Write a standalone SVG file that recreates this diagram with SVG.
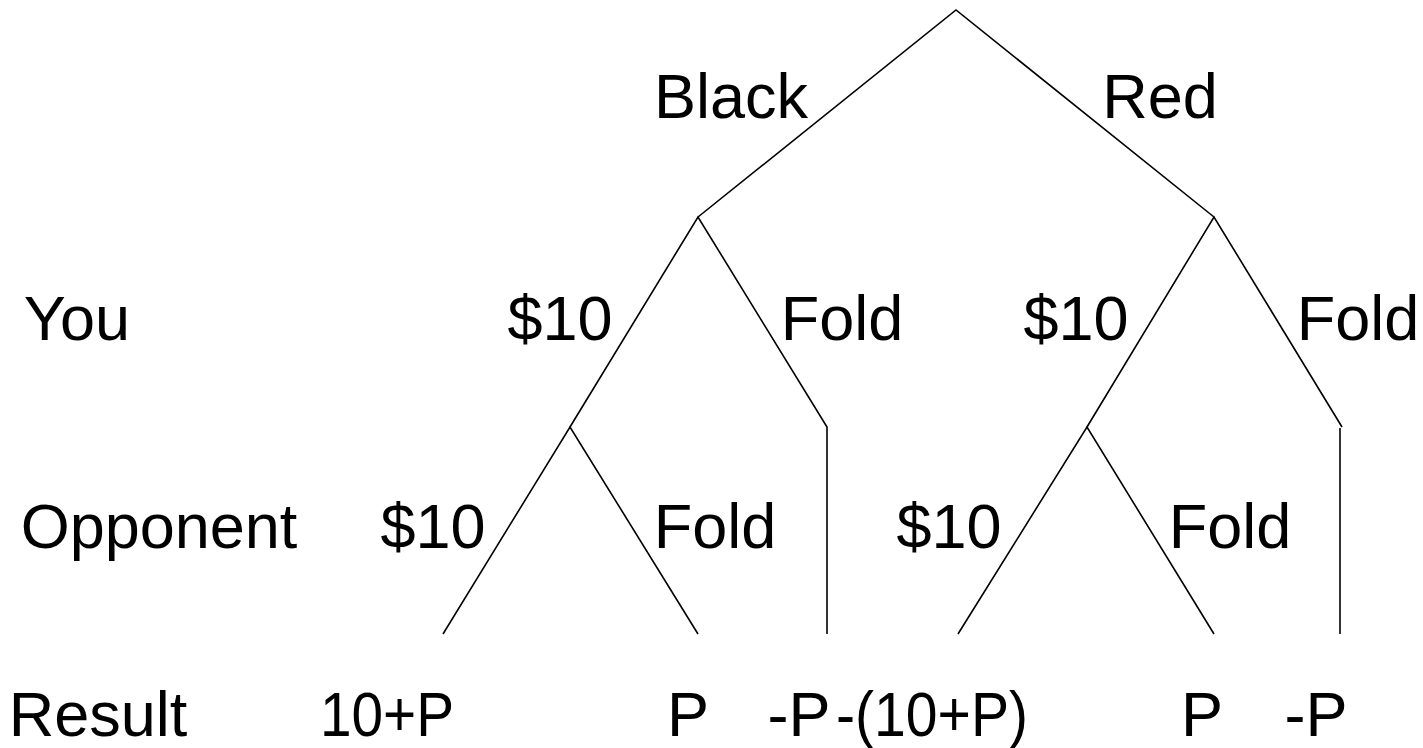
<svg xmlns="http://www.w3.org/2000/svg" width="1423" height="748" viewBox="0 0 1423 748">
<style>
.t{font-family:"Liberation Sans",Arial,sans-serif;font-size:63px;fill:#000;text-anchor:middle}
.e{stroke:#000;stroke-width:1.6;fill:none;stroke-linejoin:miter}
</style>
<rect width="1423" height="748" fill="#fff"/>
<g id="connectors">
<polyline class="e" points="698,217 956,10 1214,217"/>
<polyline class="e" points="570,427 698,217 827,427 827,634"/>
<polyline class="e" points="443,634 570,427 698,634"/>
<polyline class="e" points="1087,427 1214,217 1342,427"/>
<line class="e" x1="1340" y1="428" x2="1340" y2="634"/>
<polyline class="e" points="958,634 1087,427 1214,634"/>
</g>
<g id="level-labels">
<text class="t" x="77" y="340">You</text>
<text class="t" x="159" y="548">Opponent</text>
<text class="t" x="98" y="736">Result</text>
</g>
<g id="edge-labels">
<text class="t" x="731" y="118">Black</text>
<text class="t" x="1160" y="118">Red</text>
<text class="t" x="560" y="340">$10</text>
<text class="t" x="842" y="340">Fold</text>
<text class="t" x="1076" y="340">$10</text>
<text class="t" x="1358" y="340">Fold</text>
<text class="t" x="433" y="548">$10</text>
<text class="t" x="715" y="548">Fold</text>
<text class="t" x="949" y="548">$10</text>
<text class="t" x="1230" y="548">Fold</text>
</g>
<g id="results">
<text class="t" x="387" y="736" textLength="134" lengthAdjust="spacingAndGlyphs">10+P</text>
<text class="t" x="688" y="736">P</text>
<text class="t" x="799" y="736">-P</text>
<text class="t" x="932" y="736" textLength="192" lengthAdjust="spacingAndGlyphs">-(10+P)</text>
<text class="t" x="1202" y="736">P</text>
<text class="t" x="1316" y="736">-P</text>
</g>
</svg>
